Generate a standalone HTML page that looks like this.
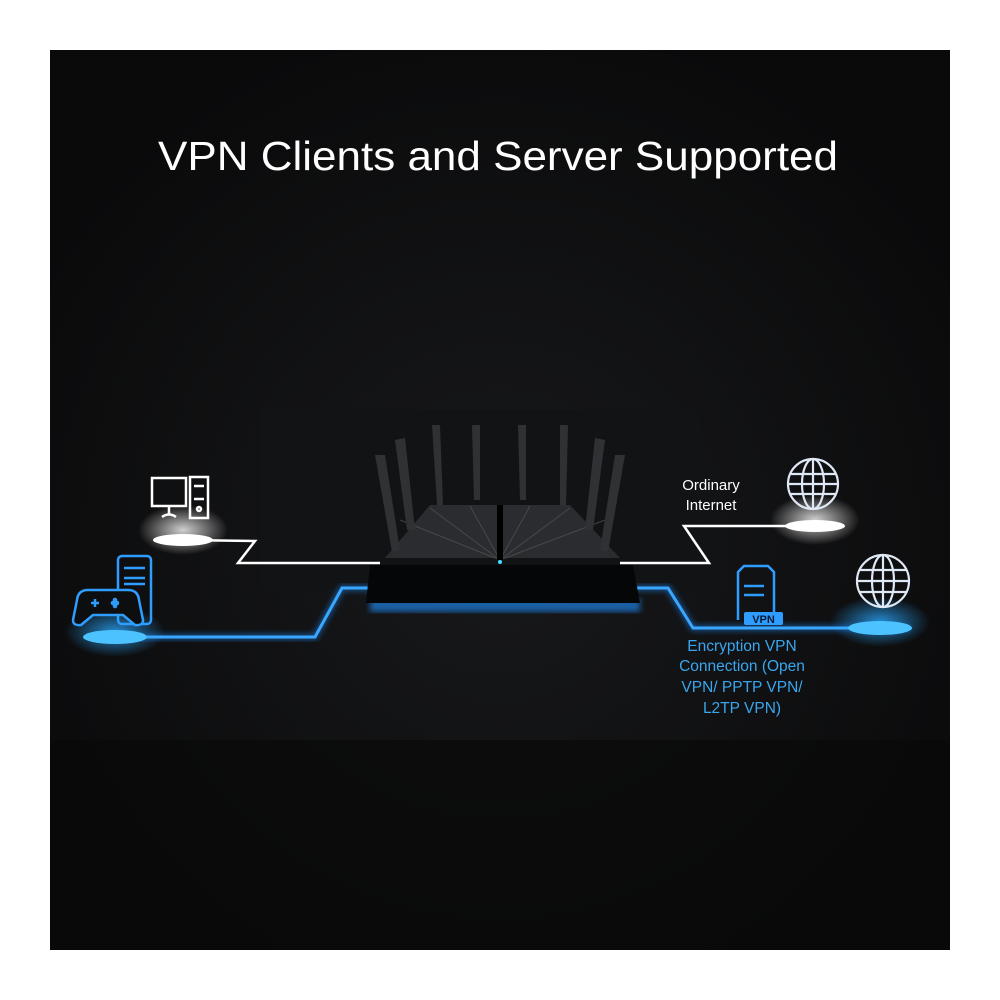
<!DOCTYPE html>
<html><head><meta charset="utf-8"><style>
html,body{margin:0;padding:0;background:#fff;width:1000px;height:1000px;overflow:hidden}
svg{display:block}
text{font-family:"Liberation Sans",sans-serif}
</style></head><body>
<svg width="1000" height="1000" viewBox="0 0 1000 1000" xmlns="http://www.w3.org/2000/svg">
<defs>
<radialGradient id="bg" cx="50%" cy="55%" r="60%">
<stop offset="0" stop-color="#18191b"/><stop offset="1" stop-color="#0a0a0b"/>
</radialGradient>
<radialGradient id="wg" cx="50%" cy="50%" r="50%"><stop offset="0" stop-color="#fff" stop-opacity=".8"/><stop offset="1" stop-color="#fff" stop-opacity="0"/></radialGradient>
<radialGradient id="bgl" cx="50%" cy="50%" r="50%"><stop offset="0" stop-color="#2aa8ff" stop-opacity=".8"/><stop offset="1" stop-color="#2aa8ff" stop-opacity="0"/></radialGradient>
<filter id="gl"><feGaussianBlur stdDeviation="3"/></filter>
</defs>
<rect x="50" y="50" width="900" height="900" fill="url(#bg)"/>
<rect x="50" y="740" width="900" height="210" fill="#080809" opacity=".6"/>
<rect x="260" y="410" width="440" height="180" fill="#121315"/>
<text x="158" y="170" font-size="41" fill="#fff" textLength="680" lengthAdjust="spacingAndGlyphs">VPN Clients and Server Supported</text>

<!-- glows -->
<ellipse cx="183" cy="530" rx="45" ry="25" fill="url(#wg)"/>
<ellipse cx="815" cy="520" rx="45" ry="25" fill="url(#wg)"/>
<ellipse cx="115" cy="632" rx="50" ry="25" fill="url(#bgl)"/>
<ellipse cx="880" cy="622" rx="50" ry="25" fill="url(#bgl)"/>
<rect x="370" y="598" width="270" height="14" fill="#1e7fe0" opacity=".7" filter="url(#gl)"/>

<!-- lines -->
<g fill="none" stroke-linejoin="miter">
<polyline points="183,540 255,541 238,563 380,563" stroke="#fff" stroke-width="2.5"/>
<polyline points="620,563 709,563 684,526 815,526" stroke="#fff" stroke-width="2.5"/>
<g stroke="#1e8cff" stroke-width="6" opacity=".5" filter="url(#gl)">
<polyline points="115,637 315,637 342,588 380,588"/>
<polyline points="630,588 668,588 693,628 910,628"/>
</g>
<polyline points="115,637 315,637 342,588 380,588" stroke="#39a6ff" stroke-width="3"/>
<polyline points="630,588 668,588 693,628 910,628" stroke="#39a6ff" stroke-width="3"/>
</g>
<ellipse cx="183" cy="540" rx="30" ry="6" fill="#fff"/>
<ellipse cx="815" cy="526" rx="30" ry="6" fill="#fff"/>
<ellipse cx="115" cy="637" rx="32" ry="7" fill="#4cc3ff"/>
<ellipse cx="880" cy="628" rx="32" ry="7" fill="#4cc3ff"/>

<!-- router -->
<polygon points="370,565 633,565 640,603 366,603" fill="#050607"/>
<polygon points="385,558 430,505 570,505 620,558" fill="#2a2c30"/>
<g stroke="#555" stroke-width="1" opacity=".7">
<line x1="500" y1="560" x2="400" y2="520"/><line x1="500" y1="560" x2="430" y2="508"/><line x1="500" y1="560" x2="470" y2="506"/>
<line x1="500" y1="560" x2="530" y2="506"/><line x1="500" y1="560" x2="570" y2="508"/><line x1="500" y1="560" x2="605" y2="520"/>
</g>
<line x1="500" y1="505" x2="500" y2="560" stroke="#000" stroke-width="6"/>
<polygon points="375,455 385,455 400,550 392,552" fill="#2f3135"/>
<polygon points="395,440 405,438 415,530 407,530" fill="#2f3135"/>
<polygon points="432,425 440,425 443,505 437,505" fill="#2f3135"/>
<polygon points="472,425 480,425 480,500 474,500" fill="#2f3135"/>
<polygon points="518,425 526,425 526,500 520,500" fill="#2f3135"/>
<polygon points="560,425 568,425 566,505 560,505" fill="#2f3135"/>
<polygon points="595,438 605,440 593,530 585,530" fill="#2f3135"/>
<polygon points="615,455 625,455 608,552 600,550" fill="#2f3135"/>
<circle cx="500" cy="562" r="2" fill="#3fe0ff"/>

<!-- PC icon -->
<g fill="none" stroke="#fff" stroke-width="2.5">
<rect x="152" y="478" width="34" height="28"/><line x1="169" y1="506" x2="169" y2="514"/><path d="M162 517 Q169 512 176 517"/>
<rect x="190" y="477" width="18" height="41"/><line x1="194" y1="486" x2="204" y2="486"/><line x1="194" y1="499" x2="204" y2="499"/><circle cx="199" cy="509" r="2"/>
</g>
<!-- game icon -->
<g fill="none" stroke="#2f9dff" stroke-width="2.5">
<rect x="118" y="556" width="33" height="68" rx="4"/><line x1="124" y1="568" x2="145" y2="568"/><line x1="124" y1="578" x2="145" y2="578"/><line x1="124" y1="584" x2="145" y2="584"/>
<path d="M88 590 h40 q10 0 11 10 l4 20 q0 6 -8 5 l-12 -10 h-30 l-12 10 q-8 1 -8 -5 l4 -20 q1 -10 11 -10z" fill="#0d0e10"/>
<line x1="91" y1="603" x2="99" y2="603"/><line x1="95" y1="599" x2="95" y2="607"/>
<circle cx="113" cy="603" r="1"/><circle cx="117" cy="603" r="1"/><circle cx="115" cy="600" r="1"/><circle cx="115" cy="606" r="1"/>
</g>
<!-- globes -->
<g fill="none" stroke="#dfe8f5" stroke-width="2.2">
<circle cx="813" cy="484" r="25"/><ellipse cx="813" cy="484" rx="11" ry="25"/><line x1="813" y1="459" x2="813" y2="509"/><line x1="790" y1="474" x2="836" y2="474"/><line x1="790" y1="494" x2="836" y2="494"/><line x1="788" y1="484" x2="838" y2="484"/>
<circle cx="883" cy="581" r="26"/><ellipse cx="883" cy="581" rx="11" ry="26"/><line x1="883" y1="555" x2="883" y2="607"/><line x1="859" y1="570" x2="907" y2="570"/><line x1="859" y1="592" x2="907" y2="592"/><line x1="857" y1="581" x2="909" y2="581"/>
</g>
<!-- VPN server -->
<g fill="none" stroke="#2f9dff" stroke-width="2.5">
<path d="M738 620 V572 l6 -6 h24 l6 6 V620"/><line x1="744" y1="586" x2="764" y2="586"/><line x1="744" y1="595" x2="764" y2="595"/>
</g>
<rect x="744" y="612" width="39" height="13" rx="2" fill="#2f9dff"/>
<text x="763.5" y="623" font-size="11" font-weight="bold" fill="#0b1a33" text-anchor="middle">VPN</text>

<text x="711" y="490" font-size="15" fill="#fff" text-anchor="middle">Ordinary</text>
<text x="711" y="510" font-size="15" fill="#fff" text-anchor="middle">Internet</text>
<g font-size="15.5" fill="#3aa6ef" text-anchor="middle">
<text x="742" y="651">Encryption VPN</text>
<text x="742" y="671">Connection (Open</text>
<text x="742" y="692">VPN/ PPTP VPN/</text>
<text x="742" y="713">L2TP VPN)</text>
</g>
</svg>
</body></html>
